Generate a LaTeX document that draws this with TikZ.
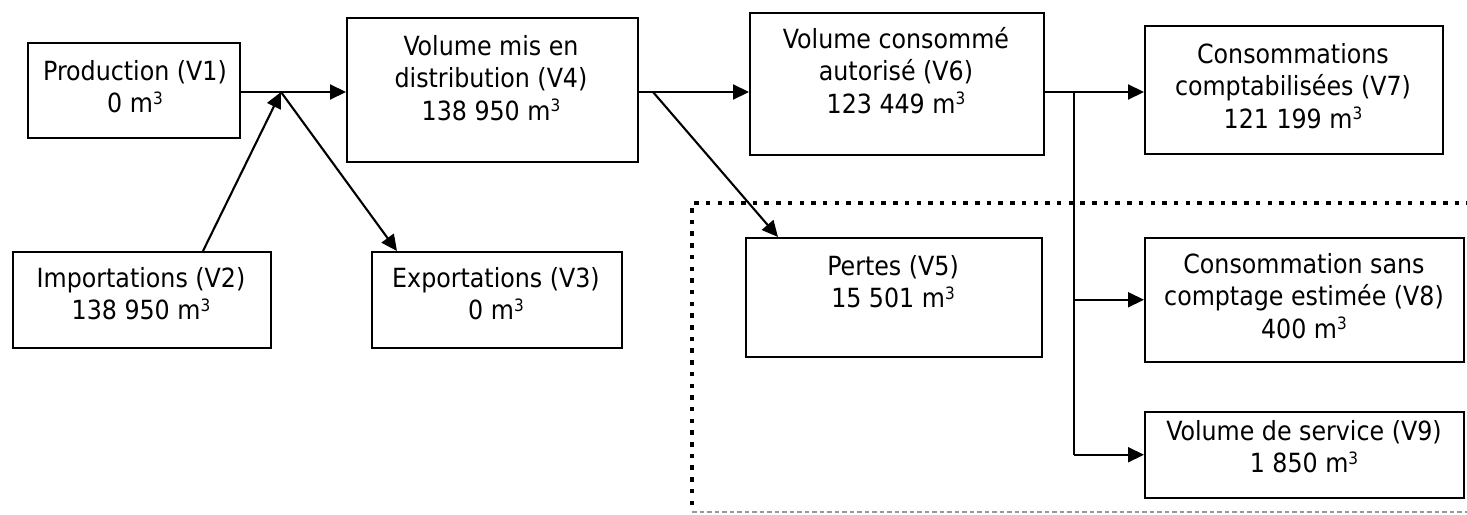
\documentclass[tikz,border=0pt]{standalone}
\usepackage{fontspec}
\setmainfont{DejaVu Sans Condensed}
\usetikzlibrary{arrows.meta}
\newcommand{\cube}{\raisebox{8.5pt}{\fontsize{17}{17}\selectfont 3}}
\begin{document}
\begin{tikzpicture}[x=1pt,y=-1pt,
  box/.style={draw, line width=1.5pt, inner sep=0pt, anchor=north west},
  txt/.style={anchor=north, inner sep=0pt, align=center, font=\fontsize{26.4}{32.5}\selectfont},
  flow/.style={line width=2.1pt, -{Triangle[length=16pt,width=15pt]}},
  thin/.style={line width=1.8pt},
  zonetop/.style={line width=4.5pt, dash pattern=on 4.5pt off 7.2pt},
  zonebot/.style={line width=1.2pt, draw=black!40, dash pattern=on 4.5pt off 3pt},
]
\useasboundingbox (0,0) rectangle (1467,514);
% boxes
\node[box, minimum width=212pt, minimum height=95pt]  (v1) at (27,42)   {};
\node[box, minimum width=258pt, minimum height=96pt]  (v2) at (12,251)  {};
\node[box, minimum width=250pt, minimum height=96pt]  (v3) at (371,251) {};
\node[box, minimum width=291pt, minimum height=144pt] (v4) at (346,17)  {};
\node[box, minimum width=296pt, minimum height=119pt] (v5) at (745,237) {};
\node[box, minimum width=294pt, minimum height=142pt] (v6) at (749,12)  {};
\node[box, minimum width=298pt, minimum height=128pt] (v7) at (1144,25) {};
\node[box, minimum width=319pt, minimum height=124pt] (v8) at (1144,237){};
\node[box, minimum width=319pt, minimum height=86pt]  (v9) at (1144,411){};
% texts
\node[txt] (t1) at (135,54)  {\rule{0pt}{26pt}Production (V1)\\0 m\cube};
\node[txt] (t2) at (141,261) {\rule{0pt}{26pt}Importations (V2)\\138 950 m\cube};
\node[txt] (t3) at (496,261) {\rule{0pt}{26pt}Exportations (V3)\\0 m\cube};
\node[txt] (t4) at (491,29)  {\rule{0pt}{26pt}Volume mis en\\distribution (V4)\\138 950 m\cube};
\node[txt] (t5) at (893,249) {\rule{0pt}{26pt}Pertes (V5)\\15 501 m\cube};
\node[txt] (t6) at (896,22)  {\rule{0pt}{26pt}Volume consommé\\autorisé (V6)\\123 449 m\cube};
\node[txt] (t7) at (1293,37) {\rule{0pt}{26pt}Consommations\\comptabilisées (V7)\\121 199 m\cube};
\node[txt] (t8) at (1304,247){\rule{0pt}{26pt}Consommation sans\\comptage estimée (V8)\\400 m\cube};
\node[txt] (t9) at (1304,414){\rule{0pt}{26pt}Volume de service (V9)\\1 850 m\cube};
% junctions
\coordinate (j1) at (281,92);
\coordinate (j2) at (653,92);
\coordinate (j3) at (1074,92);
% connectors
\draw[flow] (v1.east |- j1) -- (v4.west |- j1);
\draw[flow] ([xshift=191pt]v2.north west) -- (j1);
\draw[flow] (j1) -- ([xshift=26pt]v3.north west);
\draw[flow] (v4.east |- j1) -- (v6.west |- j1);
\draw[flow] (j2) -- ([xshift=33pt]v5.north west);
\draw[flow] (v6.east |- j1) -- (v7.west |- j1);
\draw[thin] (j3) -- (j3 |- v9.west);
\draw[flow] (j3 |- v8.west) -- (v8.west);
\draw[flow] (j3 |- v9.west) -- (v9.west);
% zone
\draw[zonetop] (692,505) -- (692,203) -- (1467,203);
\draw[zonebot] (692,512) -- (1467,512);
\end{tikzpicture}
\end{document}
